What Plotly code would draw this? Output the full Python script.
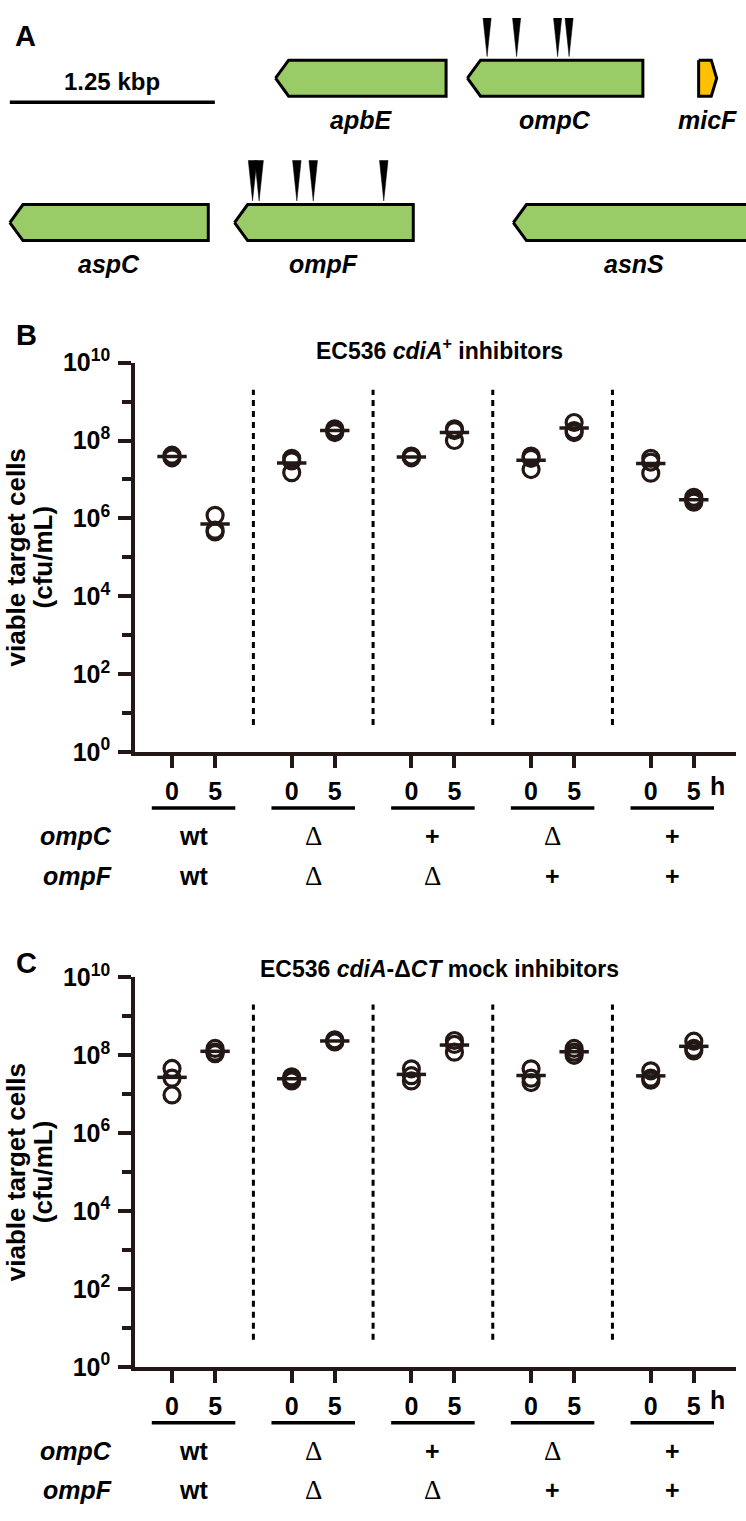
import plotly.graph_objects as go
import numpy as np

# ---------------- data ----------------
# Panel A: gene map (kbp coordinates), row 1 = top, row 2 = bottom
gene_names = ["apbE", "ompC", "micF", "aspC", "ompF", "asnS"]
gene_start = [1.68, 2.85, 4.26, 0.06, 1.43, 3.13]
gene_end = [2.72, 3.92, 4.37, 1.27, 2.52, 4.60]
gene_row = [1, 1, 1, 2, 2, 2]
gene_dir = ["-", "-", "+", "-", "-", "-"]
gene_color = ["#99CC66", "#99CC66", "#FFC000", "#99CC66", "#99CC66", "#99CC66"]
insert_pos = [2.97, 3.15, 3.40, 3.47, 1.54, 1.58, 1.81, 1.91, 2.34]
insert_row = [1, 1, 1, 1, 2, 2, 2, 2, 2]
scale_bar_kbp = 1.25
scale_bar_start = 0.06

# Panels B / C
times = ["0", "5"]
ompC_geno = ["wt", "Δ", "+", "Δ", "+"]
ompF_geno = ["wt", "Δ", "Δ", "+", "+"]

B_t0 = [[4.2e7, 3.8e7, 3.6e7], [3.5e7, 3.0e7, 1.5e7], [4.0e7, 3.8e7, 3.6e7],
        [4.0e7, 3.5e7, 1.8e7], [3.5e7, 2.8e7, 1.45e7]]
B_t5 = [[1.2e6, 5.0e5, 4.5e5], [2.0e8, 1.8e8, 1.6e8], [2.0e8, 1.8e8, 1.0e8],
        [2.9e8, 1.8e8, 1.6e8], [3.5e6, 3.0e6, 2.6e6]]
C_t0 = [[4.6e7, 2.6e7, 9.6e6], [2.8e7, 2.5e7, 2.2e7], [4.5e7, 3.0e7, 2.2e7],
        [4.5e7, 2.6e7, 2.0e7], [4.0e7, 2.6e7, 2.3e7]]
C_t5 = [[1.5e8, 1.2e8, 1.1e8], [2.5e8, 2.3e8, 2.2e8], [2.4e8, 1.9e8, 1.2e8],
        [1.5e8, 1.2e8, 1.0e8], [2.3e8, 1.5e8, 1.3e8]]

# ---------------- layout constants ----------------
W, H = 746, 1521
INK = "#231815"
FONT = "Liberation Sans"
GAP = 2.78  # group spacing in x units (time step = 1 unit)

def py(px):  # pixel-from-top -> paper y
    return 1 - px / H

def pxx(px):
    return px / W

fig = go.Figure()

# ---------------- Panel A ----------------
HH = 0.125
HEAD = 0.08
for name, s, e, r, d, c in zip(gene_names, gene_start, gene_end, gene_row, gene_dir, gene_color):
    if d == "-":
        head = min(HEAD, (e - s) * 0.4)
        xs = [s, s + head, e, e, s + head, s]
        ys = [r, r - HH, r - HH, r + HH, r + HH, r]
    else:
        head = (e - s) * 0.3
        xs = [s, e - head, e, e - head, s, s]
        ys = [r - HH, r - HH, r, r + HH, r + HH, r - HH]
    fig.add_trace(go.Scatter(x=xs, y=ys, mode="lines", fill="toself", fillcolor=c,
                             line=dict(color="black", width=3), xaxis="x3", yaxis="y3",
                             showlegend=False, hoverinfo="skip"))
    fig.add_annotation(x=(s + e) / 2, y=r + 0.29, xref="x3", yref="y3",
                       text=f"<b><i>{name}</i></b>", showarrow=False,
                       font=dict(family=FONT, size=25, color="black"))

TW = 0.026
for p, r in zip(insert_pos, insert_row):
    tip = r - HH - 0.025
    top = tip - 0.28
    fig.add_trace(go.Scatter(x=[p - TW, p + TW, p, p - TW], y=[top, top, tip, top],
                             mode="lines", fill="toself", fillcolor="black",
                             line=dict(color="black", width=0.5), xaxis="x3", yaxis="y3",
                             showlegend=False, hoverinfo="skip"))

fig.add_trace(go.Scatter(x=[scale_bar_start, scale_bar_start + scale_bar_kbp], y=[1.166, 1.166],
                         mode="lines", line=dict(color="black", width=3.5),
                         xaxis="x3", yaxis="y3", showlegend=False, hoverinfo="skip"))
fig.add_annotation(x=scale_bar_start + scale_bar_kbp / 2, y=1.02, xref="x3", yref="y3",
                   text=f"<b>{scale_bar_kbp} kbp</b>", showarrow=False,
                   font=dict(family=FONT, size=24, color="black"))

# ---------------- Panels B, C ----------------
panels = [
    dict(t0=B_t0, t5=B_t5, xa="x", ya="y", top=352, bot=750, letter="B",
         title="<b>EC536 <i>cdiA</i><sup>+</sup> inhibitors</b>", title_px=338, letter_px=324),
    dict(t0=C_t0, t5=C_t5, xa="x2", ya="y2", top=980, bot=1378, letter="C",
         title="<b>EC536 <i>cdiA</i>-Δ<i>CT</i> mock inhibitors</b>", title_px=971, letter_px=965),
]

tickvals, ticktext = [], []
for g in range(len(ompC_geno)):
    for k, t in enumerate(times):
        tickvals.append(g * GAP + k)
        ticktext.append(t)

OFF_H, OFF_BAR, OFF_C, OFF_F = 34, 57, 86, 126
for P in panels:
    xa, ya = P["xa"], P["ya"]
    bot = P["bot"]
    for g in range(len(ompC_geno)):
        for k, vals in enumerate([P["t0"][g], P["t5"][g]]):
            xv = g * GAP + k
            fig.add_trace(go.Scatter(x=[xv] * len(vals), y=vals, mode="markers",
                                     marker=dict(symbol="circle-open", size=16,
                                                 line=dict(color=INK, width=3.2), color=INK),
                                     xaxis=xa, yaxis=ya, showlegend=False))
            fig.add_trace(go.Scatter(x=[xv], y=[float(np.mean(vals))], mode="markers",
                                     marker=dict(symbol="line-ew", size=21,
                                                 line=dict(color=INK, width=3.5)),
                                     xaxis=xa, yaxis=ya, showlegend=False))
    # dotted separators between groups
    for g in range(len(ompC_geno) - 1):
        xs = g * GAP + 1 + (GAP - 1) / 2
        fig.add_trace(go.Scatter(x=[xs, xs], y=[5, 2e9], mode="lines",
                                 line=dict(color="black", width=3, dash="6px,5px"),
                                 xaxis=xa, yaxis=ya, showlegend=False, hoverinfo="skip"))
    # underline bars & genotype rows
    for g in range(len(ompC_geno)):
        fig.add_shape(type="line", xref=xa, yref="paper",
                      x0=g * GAP - 0.47, x1=g * GAP + 1.47,
                      y0=py(bot + OFF_BAR), y1=py(bot + OFF_BAR),
                      line=dict(color="black", width=3.5))
        for geno, off in [(ompC_geno[g], OFF_C), (ompF_geno[g], OFF_F)]:
            if geno == "Δ":
                fnt = dict(family="Liberation Serif", size=27, color="black")
                txt = geno
            else:
                fnt = dict(family=FONT, size=25, color="black")
                txt = f"<b>{geno}</b>"
            fig.add_annotation(x=g * GAP + 0.5, y=py(bot + off), xref=xa, yref="paper",
                               text=txt, showarrow=False, font=fnt, yanchor="middle")
    for lab, off in [("ompC", OFF_C), ("ompF", OFF_F)]:
        fig.add_annotation(x=pxx(114), y=py(bot + off), xref="paper", yref="paper",
                           text=f"<b><i>{lab}</i></b>", showarrow=False, xanchor="right",
                           font=dict(family=FONT, size=25, color="black"), yanchor="middle")
    fig.add_annotation(x=pxx(727), y=py(bot + OFF_H), xref="paper", yref="paper",
                       text="<b>h</b>", showarrow=False,
                       font=dict(family=FONT, size=25, color="black"), yanchor="middle")
    # titles
    fig.add_annotation(x=pxx(440), y=py(P["title_px"]), xref="paper", yref="paper",
                       text=P["title"], showarrow=False,
                       font=dict(family=FONT, size=23, color="black"), yanchor="middle")
    fig.add_annotation(x=pxx(14), y=py(P["letter_px"]), xref="paper", yref="paper",
                       text=f"<b>{P['letter']}</b>", showarrow=False,
                       font=dict(family=FONT, size=29, color="black"), yanchor="middle")
    # y title (two lines)
    ymid = py((P["top"] + P["bot"]) / 2)
    for txt, xc in [("viable target cells", 16), ("(cfu/mL)", 43)]:
        fig.add_annotation(x=pxx(xc), y=ymid, xref="paper", yref="paper",
                           text=f"<b>{txt}</b>", textangle=-90,
                           showarrow=False, font=dict(family=FONT, size=26, color="black"),
                           yanchor="middle", xanchor="center")

fig.add_annotation(x=pxx(13), y=py(18), xref="paper", yref="paper", text="<b>A</b>",
                   showarrow=False, font=dict(family=FONT, size=29, color="black"), yanchor="middle")

xax = dict(range=[-0.86, 13.1], showline=True, linewidth=3.5, linecolor=INK, ticks="outside",
           ticklen=12, tickwidth=3.5, tickcolor=INK, tickvals=tickvals, ticktext=ticktext,
           tickfont=dict(family=FONT, size=25, color="black", weight="bold"),
           showgrid=False, zeroline=False, domain=[pxx(135), pxx(736)], ticklabelstandoff=2)
ylog_vals = [10 ** k for k in range(0, 11, 2)]
ylog_text = [f"10<sup>{k}</sup>" for k in range(0, 11, 2)]
yax = dict(type="log", range=[0, 10], showline=True, linewidth=3.5, linecolor=INK,
           ticks="outside", ticklen=13, tickwidth=3.5, tickcolor=INK,
           tickvals=ylog_vals, ticktext=ylog_text,
           tickfont=dict(family=FONT, size=25, color="black", weight="bold"),
           minor=dict(tickvals=[10 ** k for k in range(1, 10, 2)], ticks="outside",
                      ticklen=9, tickwidth=3.5, tickcolor=INK, showgrid=False),
           showgrid=False, zeroline=False, ticklabelstandoff=3)

fig.update_layout(
    width=W, height=H, margin=dict(l=0, r=0, t=0, b=0),
    paper_bgcolor="white", plot_bgcolor="white",
    xaxis=dict(**xax, anchor="y"),
    yaxis=dict(**yax, domain=[py(750), py(352)], anchor="x"),
    xaxis2=dict(**xax, anchor="y2"),
    yaxis2=dict(**yax, domain=[py(1378), py(980)], anchor="x2"),
    xaxis3=dict(range=[0, W / 164], domain=[0, 1], visible=False, anchor="y3"),
    yaxis3=dict(range=[2.346, 0.583], domain=[py(260), 1], visible=False, anchor="x3"),
    showlegend=False,
)

fig.write_html("out.html", config={"displayModeBar": False},
               post_script="document.body.style.margin='0';document.body.style.overflow='hidden';")
